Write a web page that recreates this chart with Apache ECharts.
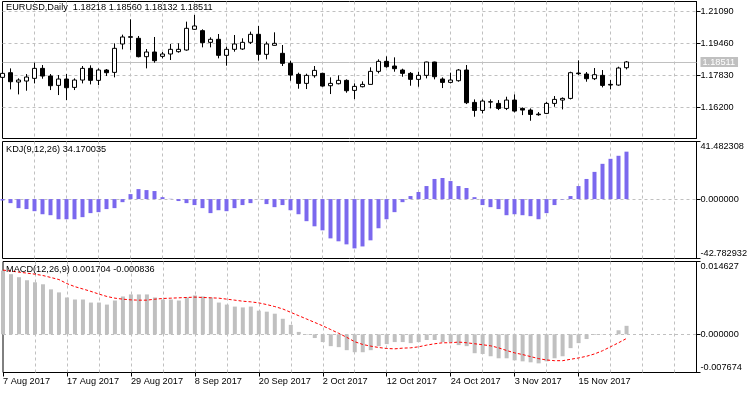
<!DOCTYPE html>
<html><head><meta charset="utf-8">
<script src="https://cdn.jsdelivr.net/npm/echarts@6/dist/echarts.min.js"></script>
<style>html,body{margin:0;padding:0;background:#fff}#c{width:750px;height:394px}</style>
</head><body><div id="c"></div>
<script>
const symbolName = 'EURUSD';
const periodName = 'Daily';
const opens = [1.17726,1.17964,1.17488,1.17539,1.17675,1.18185,1.17794,1.17318,1.17641,1.17216,
 1.17590,1.18185,1.17573,1.18100,1.17981,1.19426,1.19766,1.19715,1.18780,1.19018,
 1.18797,1.18916,1.19035,1.19120,1.20174,1.20106,1.19511,1.19664,1.18848,1.19154,
 1.19171,1.19511,1.19919,1.18899,1.19358,1.18950,1.18440,1.17879,1.17420,1.17811,
 1.17930,1.17301,1.17403,1.17573,1.17063,1.17250,1.17369,1.18032,1.18542,1.18304,
 1.18100,1.17930,1.17624,1.17828,1.18508,1.17641,1.17471,1.17556,1.18100,1.16451,
 1.16043,1.16468,1.16400,1.16145,1.16570,1.16145,1.16060,1.15856,1.15890,1.16400,
 1.16570,1.16655,1.17947,1.17896,1.17658,1.17828,1.17369,1.17335,1.18218];
const highs = [1.18066,1.18185,1.17675,1.17896,1.18474,1.18355,1.17896,1.17845,1.17896,1.17675,
 1.18304,1.18338,1.18185,1.18151,1.19460,1.19902,1.20684,1.19834,1.19171,1.19783,
 1.19018,1.19426,1.19460,1.20565,1.20905,1.20174,1.19766,1.19936,1.19290,1.19885,
 1.19715,1.20055,1.20344,1.19545,1.20021,1.19375,1.18576,1.17964,1.17913,1.18304,
 1.17964,1.17726,1.17828,1.17624,1.17420,1.17522,1.18236,1.18644,1.18797,1.18746,
 1.18168,1.17998,1.18015,1.18525,1.18525,1.17726,1.17964,1.18151,1.18355,1.16604,
 1.16604,1.16604,1.16570,1.16740,1.16859,1.16196,1.16145,1.15958,1.16485,1.16774,
 1.16706,1.18015,1.18593,1.17998,1.18202,1.18100,1.17590,1.18270,1.18560];
const lows = [1.17590,1.17114,1.16859,1.17046,1.17420,1.17658,1.17080,1.16825,1.16570,1.17080,
 1.17420,1.17369,1.17335,1.17794,1.17726,1.19154,1.19120,1.18746,1.18185,1.18474,
 1.18695,1.18610,1.18984,1.19086,1.20140,1.19256,1.19256,1.18695,1.18321,1.19035,
 1.19120,1.19426,1.18576,1.18644,1.19341,1.18304,1.17556,1.17148,1.17131,1.17709,
 1.17250,1.16876,1.17369,1.16944,1.16621,1.17216,1.17369,1.17930,1.18219,1.18015,
 1.17760,1.17301,1.17250,1.17675,1.17624,1.17182,1.17420,1.17505,1.16366,1.15720,
 1.15890,1.16145,1.16060,1.16060,1.15941,1.15805,1.15516,1.15771,1.15856,1.16230,
 1.16094,1.16604,1.17845,1.17505,1.17590,1.17216,1.17114,1.17301,1.18132];
const closes = [1.17930,1.17505,1.17590,1.17743,1.18185,1.17794,1.17301,1.17641,1.17199,1.17590,
 1.18185,1.17573,1.18100,1.17964,1.19205,1.19783,1.19800,1.18780,1.19018,1.18576,
 1.18916,1.19154,1.19154,1.20225,1.20344,1.19494,1.19664,1.18848,1.19154,1.19426,
 1.19511,1.19919,1.18899,1.19426,1.19460,1.18440,1.17845,1.17420,1.17828,1.18083,
 1.17284,1.17420,1.17573,1.17046,1.17267,1.17369,1.18032,1.18542,1.18270,1.18168,
 1.17930,1.17624,1.17828,1.18508,1.17760,1.17471,1.17590,1.18100,1.16434,1.16043,
 1.16519,1.16485,1.16145,1.16570,1.16009,1.16060,1.15839,1.15822,1.16400,1.16604,
 1.16655,1.17964,1.17913,1.17658,1.17862,1.17318,1.17335,1.18202,1.18511];
const kdj = [-1.0,-2.9,-6.5,-7.2,-8.7,-10.9,-11.6,-14.5,-14.5,-14.5,
 -13.0,-10.1,-9.4,-7.2,-6.5,-2.2,3.6,7.2,6.5,5.8,
 1.4,0.2,-1.4,-2.9,-4.3,-6.5,-10.1,-8.0,-8.7,-6.5,
 -4.3,-2.9,0.1,-3.6,-5.8,-4.3,-8.0,-10.9,-15.9,-19.6,
 -22.5,-28.3,-30.4,-32.6,-35.5,-34.1,-29.7,-21.0,-14.5,-9.4,
 -2.2,2.2,5.1,9.4,14.5,15.2,13.0,9.4,8.0,1.4,
 -4.3,-5.8,-7.2,-11.6,-10.9,-11.6,-12.3,-14.5,-10.1,-4.3,
 -0.3,2.2,9.4,14.5,19.6,25.4,29.0,31.2,34.170035];
const macdMain = [0.01280,0.01208,0.01147,0.01086,0.01045,0.01005,0.00903,0.00842,0.00740,0.00699,
 0.00699,0.00638,0.00638,0.00597,0.00679,0.00760,0.00801,0.00801,0.00801,0.00740,
 0.00699,0.00699,0.00679,0.00740,0.00781,0.00760,0.00740,0.00638,0.00597,0.00557,
 0.00540,0.00557,0.00475,0.00455,0.00414,0.00312,0.00190,0.00048,-0.00010,-0.00075,
 -0.00156,-0.00238,-0.00258,-0.00319,-0.00360,-0.00360,-0.00319,-0.00238,-0.00197,-0.00156,
 -0.00156,-0.00177,-0.00156,-0.00115,-0.00115,-0.00156,-0.00156,-0.00217,-0.00238,-0.00380,
 -0.00395,-0.00441,-0.00482,-0.00482,-0.00523,-0.00543,-0.00563,-0.00584,-0.00543,-0.00482,
 -0.00441,-0.00278,-0.00177,-0.00095,-0.00014,-0.00005,0.00002,0.00081,0.001704];
const macdSignal = [0.01290,0.01270,0.01249,0.01229,0.01208,0.01181,0.01141,0.01100,0.01018,0.00957,
 0.00910,0.00862,0.00808,0.00760,0.00726,0.00706,0.00692,0.00686,0.00686,0.00706,
 0.00720,0.00726,0.00733,0.00740,0.00747,0.00740,0.00733,0.00726,0.00706,0.00686,
 0.00665,0.00652,0.00631,0.00597,0.00557,0.00509,0.00441,0.00373,0.00306,0.00238,
 0.00170,0.00095,0.00020,-0.00061,-0.00149,-0.00204,-0.00238,-0.00265,-0.00285,-0.00292,
 -0.00278,-0.00272,-0.00251,-0.00217,-0.00190,-0.00170,-0.00170,-0.00156,-0.00170,-0.00190,
 -0.00210,-0.00231,-0.00272,-0.00326,-0.00373,-0.00407,-0.00448,-0.00489,-0.00516,-0.00530,
 -0.00530,-0.00502,-0.00475,-0.00441,-0.00394,-0.00330,-0.00250,-0.00170,-0.000836];
const priceTicks = [1.16200, 1.17830, 1.19460, 1.21090];
const priceRange = [1.14612, 1.21591];
const kdjRange = [-42.782932, 41.482308];
const macdRange = [-0.007674, 0.014627];
const dateLabels = ['7 Aug 2017','17 Aug 2017','29 Aug 2017','8 Sep 2017','20 Sep 2017','2 Oct 2017','12 Oct 2017','24 Oct 2017','3 Nov 2017','15 Nov 2017'];
const dateIndex = [0,8,16,24,32,40,48,56,64,72];
const xSpan = 86.75;

const FONT = '"Liberation Sans", Arial, sans-serif';
const FS = 9.2;
const GRIDC = '#c0c0c0';
const DASH = [3,3];
const last = closes.length - 1;

const candleData = opens.map((o, i) => [i, o, closes[i], lows[i], highs[i]]);
const kdjData = kdj.map((v, i) => [i, v]);
const macdData = macdMain.map((v, i) => [i, v]);
const sigData = macdSignal.map((v, i) => [i, v]);

const txt = {fontSize: FS, fontFamily: FONT, color: '#000'};
function near(a, b) { return Math.abs(a - b) < 1e-9; }
function extremeFmt(range) {
  return function (v) {
    const s = v.toFixed(6);
    if (near(v, range[1])) return '{t|' + s + '}';
    if (near(v, range[0])) return '{b|' + s + '}';
    return s;
  };
}
const rich = {
  t: Object.assign({padding: [10, 0, 0, 0]}, txt),
  b: Object.assign({padding: [0, 0, 10, 0]}, txt)
};
function xAx(grid) {
  return {gridIndex: grid, type: 'value', min: 0, max: xSpan, interval: 4,
    axisLine: {show: false, onZero: false}, axisTick: {show: false}, axisLabel: {show: false},
    splitLine: {show: true, showMinLine: false, showMaxLine: false, lineStyle: {color: GRIDC, type: DASH, width: 1}}};
}
function yAx(grid, range, ticks, fmt, split) {
  return {gridIndex: grid, type: 'value', position: 'right', min: range[0], max: range[1], scale: true,
    axisLine: {show: true, onZero: false, lineStyle: {color: '#000', width: 1}},
    axisTick: {show: true, length: 4, customValues: ticks, lineStyle: {color: '#000'}},
    axisLabel: Object.assign({customValues: ticks, formatter: fmt, margin: 4, rich: rich}, txt),
    splitLine: {show: split, lineStyle: {color: GRIDC, type: DASH, width: 1}}};
}
const zeroLine = {symbol: 'none', silent: true, z: 1, precision: 8, label: {show: false},
  lineStyle: {color: GRIDC, type: DASH, width: 1}, data: [{yAxis: 0}]};

const option = {
  animation: false,
  backgroundColor: '#fff',
  title: [
    {text: symbolName + ',' + periodName + '  ' + [opens[last], highs[last], lows[last], closes[last]].map(v => v.toFixed(5)).join(' '),
     left: 6, top: 3, padding: 0, textStyle: Object.assign({fontWeight: 'normal'}, txt)},
    {text: 'KDJ(9,12,26) ' + kdj[last].toFixed(6), left: 6, top: 145, padding: 0, textStyle: Object.assign({fontWeight: 'normal'}, txt)},
    {text: 'MACD(12,26,9) ' + macdMain[last].toFixed(6) + ' ' + macdSignal[last].toFixed(6), left: 6, top: 265, padding: 0, textStyle: Object.assign({fontWeight: 'normal'}, txt)}
  ],
  grid: [
    {left: 2.5, top: 1.5, width: 694, height: 137, show: true, borderColor: '#000', borderWidth: 1, backgroundColor: '#fff'},
    {left: 2.5, top: 141.5, width: 694, height: 117, show: true, borderColor: '#000', borderWidth: 1, backgroundColor: '#fff'},
    {left: 2.5, top: 261.5, width: 694, height: 111, show: true, borderColor: '#000', borderWidth: 1, backgroundColor: '#fff'}
  ],
  xAxis: [
    xAx(0), xAx(1), xAx(2),
    {gridIndex: 2, type: 'value', min: 0, max: xSpan, position: 'bottom',
     axisLine: {show: false, onZero: false},
     axisTick: {show: true, length: 4, customValues: dateIndex, lineStyle: {color: '#000'}},
     axisLabel: Object.assign({customValues: dateIndex, align: 'left', margin: 4,
       formatter: v => { const k = dateIndex.indexOf(Math.round(v)); return k >= 0 ? dateLabels[k] : ''; }}, txt),
     splitLine: {show: false}}
  ],
  yAxis: [
    yAx(0, priceRange, priceTicks, v => v.toFixed(5), true),
    yAx(1, kdjRange, [kdjRange[0], 0, kdjRange[1]], extremeFmt(kdjRange), false),
    yAx(2, macdRange, [macdRange[0], 0, macdRange[1]], extremeFmt(macdRange), false)
  ],
  series: [
    {type: 'line', xAxisIndex: 0, yAxisIndex: 0, data: [[last, closes[last]]], symbol: 'none', showSymbol: false,
     silent: true, lineStyle: {opacity: 0}, z: 1,
     markLine: {symbol: 'none', silent: true, z: 1, precision: 5,
       lineStyle: {color: GRIDC, type: 'solid', width: 1},
       label: {show: true, position: 'end', distance: 4, formatter: () => closes[last].toFixed(5),
         backgroundColor: '#c0c0c0', color: '#fff', padding: [1, 3, 0, 2], fontSize: FS, fontFamily: FONT},
       data: [{yAxis: closes[last]}]}},
    {type: 'candlestick', xAxisIndex: 0, yAxisIndex: 0, data: candleData,
     encode: {x: 0, y: [1, 2, 3, 4]}, barWidth: 4,
     itemStyle: {color: '#fff', color0: '#000', borderColor: '#000', borderColor0: '#000', borderWidth: 1}},
    {type: 'bar', xAxisIndex: 1, yAxisIndex: 1, data: kdjData, barWidth: 4,
     itemStyle: {color: '#7b68ee'}, markLine: zeroLine},
    {type: 'bar', xAxisIndex: 2, yAxisIndex: 2, data: macdData, barWidth: 4,
     itemStyle: {color: '#c0c0c0'}, markLine: zeroLine},
    {type: 'line', xAxisIndex: 2, yAxisIndex: 2, data: sigData, symbol: 'none', showSymbol: false,
     lineStyle: {color: '#ff0000', width: 1, type: [3, 2]}, z: 3}
  ]
};
const chart = echarts.init(document.getElementById('c'), null, {renderer: 'canvas'});
chart.setOption(option);
</script></body></html>
